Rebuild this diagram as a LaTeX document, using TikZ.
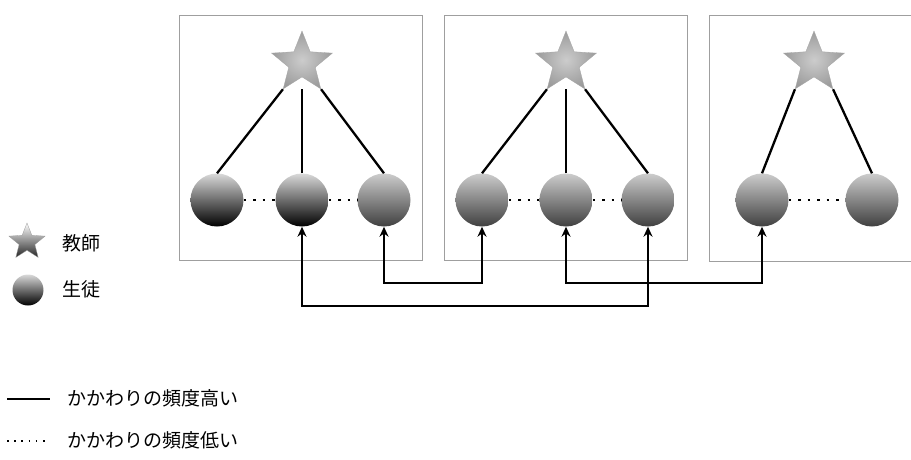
\documentclass[tikz,border=0pt]{standalone}
\usepackage{fontspec}
\setmainfont{Noto Sans CJK JP}
\usetikzlibrary{shapes.geometric,arrows.meta,calc}
\begin{document}
\begin{tikzpicture}[x=1pt,y=-1pt,
  frame/.style={draw=gray!75, line width=0.8pt},
  teacher/.style={star, star points=5, star point ratio=2.3, minimum size=64pt, inner sep=0pt,
    draw=gray!70, line width=0.3pt, inner color=gray!40, outer color=gray!78},
  pupil/.style={circle, minimum size=53pt, inner sep=0pt, top color=gray!40, bottom color=black!75},
  darkpupil/.style={pupil, top color=gray!30, bottom color=black},
  strong/.style={line width=2.3pt},
  weak/.style={line width=2.5pt, dash pattern=on 2.5pt off 7pt},
  link/.style={line width=2pt, {Stealth[length=10pt,width=9pt]}-{Stealth[length=10pt,width=9pt]}},
  lbl/.style={anchor=west, inner sep=0pt, font=\fontsize{19}{21}\selectfont}
]
\useasboundingbox (0,0) rectangle (911,459);
% frames
\draw[frame] (179,15) rectangle (422,260);
\draw[frame] (444,15) rectangle (687,260);
\draw[frame] (911,15) -- (709,15) -- (709,261) -- (911,261);
% teachers
\node[teacher] (s1) at (302,63) {};
\node[teacher] (s2) at (566,63) {};
\node[teacher] (s3) at (814,63) {};
% pupils
\node[darkpupil] (c1) at (217,200) {};
\node[darkpupil] (c2) at (302,200) {};
\node[pupil] (c3) at (384,200) {};
\node[pupil] (c4) at (482,200) {};
\node[pupil] (c5) at (566,200) {};
\node[pupil] (c6) at (648,200) {};
\node[pupil] (c7) at (762,200) {};
\node[pupil] (c8) at (872,200) {};
% strong ties
\draw[strong] (s1.outer point 3) -- (c1.north);
\draw[strong] (c2.north) -- (c2.north |- s1.outer point 3);
\draw[strong] (s1.outer point 4) -- (c3.north);
\draw[strong] (s2.outer point 3) -- (c4.north);
\draw[strong] (c5.north) -- (c5.north |- s2.outer point 3);
\draw[strong] (s2.outer point 4) -- (c6.north);
\draw[strong] (s3.outer point 3) -- (c7.north);
\draw[strong] (s3.outer point 4) -- (c8.north);
% weak ties
\draw[weak] (c1.east) -- (c2.west);
\draw[weak] (c2.east) -- (c3.west);
\draw[weak] (c4.east) -- (c5.west);
\draw[weak] (c5.east) -- (c6.west);
\draw[weak] (c7.east) -- (c8.west);
% links between classes
\coordinate (ylow) at (0,306);
\coordinate (yhigh) at (0,283);
\draw[link] (c2.south) -- (c2.south |- ylow) -| (c6.south);
\draw[link] (c3.south) -- (c3.south |- yhigh) -| (c4.south);
\draw[link] (c5.south) -- (c5.south |- yhigh) -| (c7.south);
% legend
\node[teacher, minimum size=38pt, top color=white, bottom color=black!85, draw=gray!80] (ls) at (27,242) {};
\node[lbl] (lt) at (62,243) {教師};
\node[darkpupil, minimum size=31pt] (lp) at (28,290) {};
\node[lbl] (lpt) at (62,289) {生徒};
\coordinate (ha) at (7,399);
\coordinate (hb) at (50,399);
\draw[line width=2pt] (ha) -- (hb);
\node[lbl] (ht) at (67,398) {かかわりの頻度高い};
\coordinate (la) at (7,441);
\coordinate (lb) at (50,441);
\draw[line width=1.6pt, dash pattern=on 1.6pt off 5.6pt] (la) -- (lb);
\node[lbl] (lt2) at (67,440) {かかわりの頻度低い};
\end{tikzpicture}
\end{document}
